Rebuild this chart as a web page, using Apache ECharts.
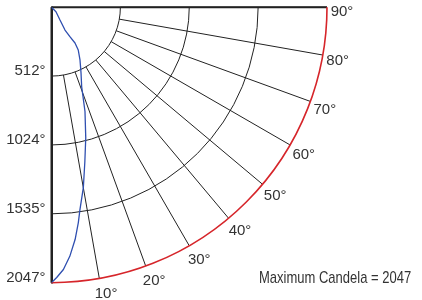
<!DOCTYPE html>
<html>
<head>
<meta charset="utf-8">
<script src="https://cdn.jsdelivr.net/npm/echarts@6/dist/echarts.min.js"></script>
<style>
html, body { margin: 0; padding: 0; background: #fff; }
#main { width: 422px; height: 300px; }
</style>
</head>
<body>
<div id="main"></div>
<script>
var maxCandela = 2047;
var angleTicks = [10, 20, 30, 40, 50, 60, 70, 80, 90];
var ringLabels = [512, 1024, 1535, 2047];
// candela curve: angle (deg) / intensity
var curveAngles = [0, 1.1, 2.6, 4.2, 5.8, 7.1, 8, 10, 12.2, 14.7, 17.8, 20.8, 24.2, 28.4, 32, 33.3, 32, 30.6, 33.6, 45, 90];
var curveCandela = [2047, 2009, 1951, 1856, 1735, 1613, 1519, 1362, 1173, 1003, 814, 631, 535, 445, 375, 318, 258, 197, 114, 47, 0];

var FONT = '"Liberation Sans", Arial, sans-serif';
var TXT = '#333';
var LINE = '#222';
var CX = 51.5, CY = 7.2, R = 275.5;

var chart = echarts.init(document.getElementById('main'), null, { renderer: 'canvas' });

var curveData = curveCandela.map(function (v, i) {
	return [v, curveAngles[i]];
});

function hiddenRadius(idx) {
	return {
		polarIndex: idx, type: 'value', min: 0, max: maxCandela,
		axisLine: { show: false }, axisTick: { show: false },
		axisLabel: { show: false }, splitLine: { show: false }
	};
}

var option = {
	animation: false,
	graphic: [
		{
			type: 'text',
			x: 259,
			y: 270,
			scaleX: 0.765,
			style: {
				text: 'Maximum Candela = ' + maxCandela,
				font: '17px ' + FONT,
				fill: TXT
			}
		}
	],
	polar: [
		{ center: [CX, CY], radius: [0, R] },
		{ center: [CX, CY], radius: [68.9, R] },
		// only carries the angle labels, nudged like the original
		{ center: [CX + 5, CY + 4.5], radius: [0, R] }
	],
	angleAxis: [
		{
			polarIndex: 0,
			type: 'value',
			min: 0,
			max: 90,
			interval: 90,
			startAngle: 270,
			endAngle: 360,
			clockwise: false,
			axisLine: { show: true, lineStyle: { color: '#d6252a', width: 1.6 } },
			axisTick: { show: false },
			axisLabel: { show: false },
			splitLine: { show: true, lineStyle: { color: LINE, width: 2 } }
		},
		{
			polarIndex: 1,
			type: 'value',
			min: 0,
			max: 90,
			interval: 10,
			startAngle: 270,
			endAngle: 360,
			clockwise: false,
			axisLine: { show: false },
			axisTick: { show: false },
			axisLabel: { show: false },
			splitLine: { show: true, lineStyle: { color: LINE, width: 1 } }
		},
		{
			polarIndex: 2,
			type: 'value',
			min: 0,
			max: 90,
			interval: 10,
			startAngle: 270,
			endAngle: 360,
			clockwise: false,
			axisLine: { show: false },
			axisTick: { show: false },
			splitLine: { show: false },
			axisLabel: {
				margin: 10,
				formatter: function (v) {
					return angleTicks.indexOf(v) < 0 ? '' : '{c|' + v + '°}';
				},
				rich: {
					c: { width: 0, lineHeight: 1, align: 'center', fontSize: 15, color: TXT, fontFamily: FONT }
				}
			}
		}
	],
	radiusAxis: [
		{
			polarIndex: 0,
			type: 'value',
			min: 0,
			max: maxCandela,
			interval: maxCandela / 4,
			axisLine: { show: true, lineStyle: { color: LINE, width: 2 } },
			axisTick: { show: false },
			axisLabel: {
				margin: -6,
				align: 'right',
				verticalAlign: 'bottom',
				lineHeight: 10,
				fontSize: 15,
				color: TXT,
				fontFamily: FONT,
				formatter: function (v) {
					var r = Math.round(v);
					return ringLabels.indexOf(r) < 0 ? '' : r + '°';
				}
			},
			splitLine: {
				show: true,
				lineStyle: { color: [LINE, LINE, LINE, LINE, 'rgba(0,0,0,0)'], width: 1 }
			}
		},
		hiddenRadius(1),
		hiddenRadius(2)
	],
	series: [
		{
			type: 'line',
			coordinateSystem: 'polar',
			polarIndex: 0,
			data: curveData,
			symbol: 'none',
			smooth: false,
			lineStyle: { color: '#2f4fb0', width: 1.3 },
			z: 5
		}
	]
};

chart.setOption(option);
</script>
</body>
</html>
